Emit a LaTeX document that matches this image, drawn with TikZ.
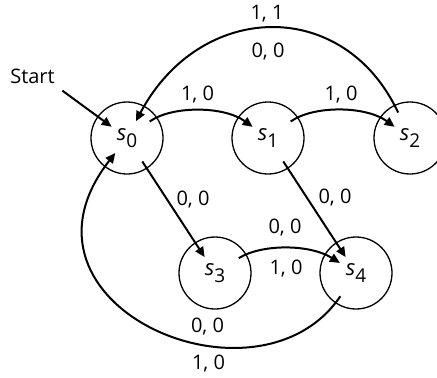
\documentclass[tikz,border=0pt]{standalone}
\usepackage{fontspec}
\setmainfont{Open Sans}
\usetikzlibrary{arrows.meta}

\newcommand{\stname}[1]{{\fontsize{11}{13}\selectfont\itshape s}\raisebox{-0.6ex}{\fontsize{9.5}{11}\selectfont #1}}

\begin{document}
\begin{tikzpicture}[x=0.5pt, y=0.5pt,
    state/.style={draw, circle, line width=0.65pt, minimum size=36pt, inner sep=0pt},
    trans/.style={line width=1pt, -{Triangle[length=5pt,width=4.5pt]}, shorten <=14pt, shorten >=9.5pt},
    lbl/.style={font=\fontsize{10}{12}\selectfont, inner sep=0pt}]
    \useasboundingbox (0,0) rectangle (437,377);

    % States
    \node[state] (s0) at (127,239) {\stname{0}};
    \node[state] (s1) at (268,239) {\stname{1}};
    \node[state] (s2) at (410,239) {\stname{2}};
    \node[state] (s3) at (215,104) {\stname{3}};
    \node[state] (s4) at (356,104) {\stname{4}};

    % Start
    \node[lbl, inner sep=2pt] (start) at (32.5,300.5) {Start};
    \draw[trans, shorten <=2pt] (start.south east) -- (s0.center);

    % Transitions
    \draw[trans] (s0.center) to[bend left=36] (s1.center);
    \draw[trans] (s1.center) to[bend left=36] (s2.center);
    \draw[trans] (s2.center) .. controls +(115:156) and +(62:156) .. (s0.center);
    \draw[trans] (s0.center) -- (s3.center);
    \draw[trans] (s1.center) -- (s4.center);
    \draw[trans] (s3.center) to[bend left=32] (s4.center);
    \draw[trans] (s4.center) .. controls +(236:175) and +(232:212) .. (s0.center);

    % Labels
    \node[lbl] (l01) at (197.5,282) {1, 0};
    \node[lbl] (l12) at (341,282) {1, 0};
    \node[lbl] (l20t) at (267,363) {1, 1};
    \node[lbl] (l20b) at (268,325) {0, 0};
    \node[lbl] (l03) at (193,177) {0, 0};
    \node[lbl] (l14) at (335,179) {0, 0};
    \node[lbl] (l34t) at (285,149) {0, 0};
    \node[lbl] (l34b) at (286,108) {1, 0};
    \node[lbl] (l40t) at (207.5,50) {0, 0};
    \node[lbl] (l40b) at (208.5,13) {1, 0};
\end{tikzpicture}
\end{document}
